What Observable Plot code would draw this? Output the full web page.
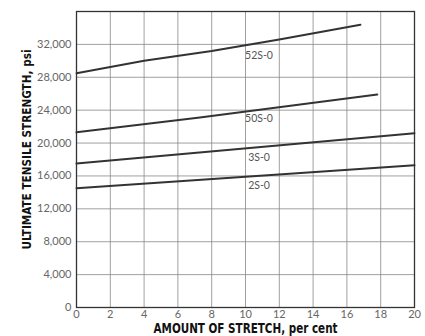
<!DOCTYPE html>
<html><head><meta charset="utf-8">
<script src="https://cdn.jsdelivr.net/npm/d3@7"></script>
<script src="https://cdn.jsdelivr.net/npm/@observablehq/plot@0.6"></script>
<style>
body{margin:0;background:#fff;}
</style>
</head><body><div id="chart"></div>
<script>
const xTicks = [0,2,4,6,8,10,12,14,16,18,20];
const yTicks = [0,4000,8000,12000,16000,20000,24000,28000,32000];
const alloys = ["52S-0","50S-0","3S-0","2S-0"];
const stretch52 = [0,4,8,12,16.8];
const strength52 = [28500,30000,31200,32600,34400];
const stretch50 = [0,7.3,17.8];
const strength50 = [21300,23100,25900];
const stretch3 = [0,20];
const strength3 = [17500,21200];
const stretch2 = [0,20];
const strength2 = [14500,17300];
const labelX = [10.8,10.8,10.8,10.8];
const labelY = [30650,23000,18250,14850];
const xTitle = "AMOUNT OF STRETCH, per cent";
const yTitle = "ULTIMATE TENSILE STRENGTH, psi";

const rows = [];
[[alloys[0],stretch52,strength52],[alloys[1],stretch50,strength50],[alloys[2],stretch3,strength3],[alloys[3],stretch2,strength2]]
  .forEach(([a,xs,ys]) => xs.forEach((x,i)=>rows.push({alloy:a,x,y:ys[i]})));
const labels = alloys.map((a,i)=>({alloy:a,x:labelX[i],y:labelY[i]}));

const chart = Plot.plot({
  width:425, height:336,
  marginLeft:76, marginRight:11, marginTop:11, marginBottom:29,
  style:{fontFamily:"Lato, sans-serif", background:"#fff"},
  x:{domain:[0,20]},
  y:{domain:[0,36000]},
  marks:[
    Plot.gridX(xTicks,{stroke:"#888",strokeOpacity:0.8,strokeWidth:1}),
    Plot.gridY(yTicks,{stroke:"#888",strokeOpacity:0.8,strokeWidth:1}),
    Plot.frame({stroke:"#333",strokeWidth:1.3}),
    Plot.axisX({ticks:xTicks,tickSize:0,tickPadding:3,label:null,fontSize:11,fill:"#666"}),
    Plot.axisY({ticks:yTicks,tickSize:0,tickPadding:5,label:null,fontSize:11,fill:"#666",tickFormat:d3.format(",")}),
    Plot.line(rows,{x:"x",y:"y",z:"alloy",stroke:"#333",strokeWidth:2}),
    Plot.text(labels,{x:"x",y:"y",text:"alloy",fontSize:10.5,fill:"#555"}),
    Plot.text([xTitle],{frameAnchor:"bottom",lineAnchor:"middle",dy:21,fontFamily:"DejaVu Sans Condensed",fontWeight:"bold",fontSize:14,fill:"#111"}),
    Plot.text([yTitle],{frameAnchor:"left",lineAnchor:"middle",rotate:-90,dx:-50,fontFamily:"DejaVu Sans Condensed",fontWeight:"bold",fontSize:13,fill:"#111"})
  ]
});
document.getElementById("chart").appendChild(chart);
d3.select(chart).selectAll("text").each(function(){
  const t = this.textContent;
  if (t === xTitle) { this.setAttribute("textLength", 184); this.setAttribute("lengthAdjust","spacingAndGlyphs"); }
  if (t === yTitle) {
    this.setAttribute("textLength", 200); this.setAttribute("lengthAdjust","spacingAndGlyphs");
    this.setAttribute("text-anchor","start");
    this.setAttribute("x", -90);
  }
});
</script>
</body></html>
